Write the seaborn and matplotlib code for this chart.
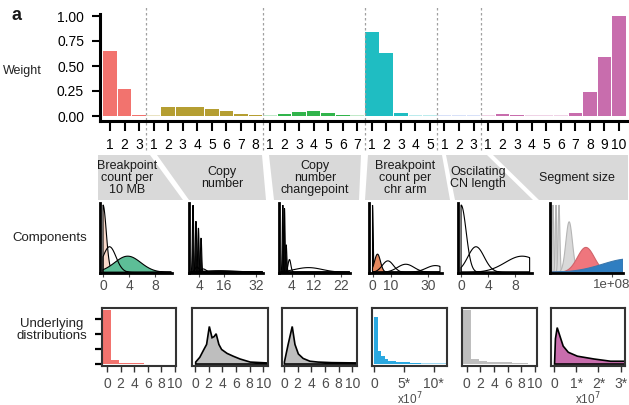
import numpy as np
import pandas as pd
import matplotlib
matplotlib.use("Agg")
import matplotlib.pyplot as plt
import seaborn as sns
from matplotlib.patches import Polygon
from matplotlib.colors import to_rgb

sns.set_theme(style="ticks")
plt.rcParams['font.family'] = ['Liberation Sans', 'DejaVu Sans']

W, H = 629, 405

# ---------------- data ----------------
feature_names = ["Breakpoint\ncount per\n10 MB", "Copy\nnumber", "Copy\nnumber\nchangepoint",
                 "Breakpoint\ncount per\nchr arm", "Oscilating\nCN length", "Segment size"]

# component weights (top row)
w_bp10mb = [0.65, 0.27, 0.01]
w_cn = [0.006, 0.09, 0.09, 0.09, 0.075, 0.05, 0.02, 0.01]
w_cncp = [0.006, 0.02, 0.04, 0.05, 0.03, 0.01, 0.006]
w_bpchr = [0.84, 0.63, 0.03, 0.006, 0.006]
w_osc = [0.006, 0.006, 0.006]
w_seg = [0.006, 0.02, 0.01, 0.006, 0.006, 0.006, 0.03, 0.24, 0.59, 1.00]
weights = [w_bp10mb, w_cn, w_cncp, w_bpchr, w_osc, w_seg]

# mixture components (middle row): mean, sd, scaled peak
c1_mean = [0.0, 3.8, 1.0]
c1_sd = [0.5, 2.0, 1.0]
c1_peak = [1.0, 0.24, 0.38]

c2_mean = [1.07, 2.5, 3.7, 5.0, 3.0, 6.0, 14.0]
c2_sd = [0.3, 0.3, 0.3, 0.3, 1.0, 1.5, 9.0]
c2_peak = [1.0, 0.76, 0.66, 0.51, 0.08, 0.05, 0.025]

c3_mean = [0.7, 1.3, 1.9, 3.1, 10.0]
c3_sd = [0.2, 0.2, 0.25, 0.5, 5.0]
c3_peak = [1.0, 0.95, 0.41, 0.19, 0.07]

c4_mean = [0.0, 2.7, 8.3, 18.0, 34.0]
c4_sd = [0.35, 1.6, 3.0, 4.5, 5.0]
c4_peak = [1.0, 0.27, 0.17, 0.12, 0.10]

c5_mean = [0.0, 2.2, 9.0]
c5_sd = [0.75, 1.2, 2.5]
c5_peak = [1.0, 0.38, 0.24]

c6_mean = [0.02, 0.07, 0.12, 0.29, 0.57, 1.3]   # x 1e8
c6_sd = [0.012, 0.012, 0.015, 0.055, 0.14, 0.45]
c6_peak = [1.0, 1.0, 1.0, 0.75, 0.37, 0.2]

comp_means = [c1_mean, c2_mean, c3_mean, c4_mean, c5_mean, c6_mean]
comp_sds = [c1_sd, c2_sd, c3_sd, c4_sd, c5_sd, c6_sd]
comp_peaks = [c1_peak, c2_peak, c3_peak, c4_peak, c5_peak, c6_peak]
comp_domain = [(0, 10.5), (0, 35), (0, 25), (0, 36.5), (0, 10.1), (0, 1.19)]

# underlying distributions (bottom row)
u1_start, u1_width = -0.6, 1.2
u1_heights = [0.36, 0.027, 0.006, 0.004, 0.004, 0.003, 0.003, 0.003]

u2_x = [0.1, 0.7, 1.3, 1.7, 2.1, 2.5, 2.8, 3.1, 3.5, 3.9, 4.7, 5.6, 6.6, 8.1, 10.5]
u2_y = [0.035, 0.12, 0.26, 0.35, 0.67, 0.47, 0.49, 0.54, 0.35, 0.26, 0.19, 0.14, 0.09, 0.035, 0.02]

u3_x = [0.05, 0.6, 1.2, 1.6, 2.1, 2.8, 3.8, 5.0, 7.0, 10.5]
u3_y = [0.035, 0.35, 0.67, 0.35, 0.18, 0.10, 0.05, 0.035, 0.025, 0.02]

u4_start, u4_width = 0.0, 0.6   # x 1e7
u4_heights = [0.84, 0.23, 0.14, 0.09, 0.06, 0.05, 0.04, 0.035, 0.03, 0.03,
              0.025, 0.025, 0.02, 0.02, 0.02, 0.02, 0.02, 0.015, 0.015, 0.015]

u5_start, u5_width = -0.6, 1.2
u5_heights = [0.96, 0.09, 0.05, 0.035, 0.03, 0.03, 0.025, 0.025]

u6_x = [0.02, 0.06, 0.14, 0.27, 0.41, 0.64, 1.05, 1.8, 2.55, 3.2]   # x 1e7
u6_y = [0.0, 0.45, 0.65, 0.49, 0.32, 0.21, 0.14, 0.09, 0.05, 0.05]

# ---------------- styles / layout ----------------
feature_colors = ["#F2736E", "#B59E32", "#31B44B", "#1FBDC2", "#7E9CE8", "#C86DAD"]
comp_fills = [["#F9D9CA", "#5DBE97", "none"],
              ["#111111"] * 4 + ["none"] * 3,
              ["#111111"] * 3 + ["none"] * 2,
              ["#1E5B4B", "#E5875D", "none", "none", "none"],
              ["none"] * 3,
              ["#D9D9D9"] * 4 + ["#EF767D", "#2F7EC1"]]
comp_edges = [["black"] * 3, ["black"] * 7, ["black"] * 5, ["black"] * 5, ["black"] * 3,
              ["#B5B5B5"] * 4 + ["#D0646B", "#3A78AE"]]

comp_lr = [(100, 172), (189, 263), (279, 350), (369, 442), (458, 532), (550, 623)]
comp_xlim = [(-0.46, 10.6), (-0.9, 35.2), (-0.7, 25.1), (-1.9, 37.6), (-0.45, 10.45), (-0.03, 1.19)]
comp_ticks = [[0, 4, 8], [4, 16, 32], [4, 12, 22], [0, 10, 30], [0, 4, 8], [1.0]]
comp_ticklabels = [None, None, None, None, None, ["1e+08"]]

und_lr = [(102, 176), (192, 268), (282, 357), (372, 447), (462, 537), (551, 625)]
und_xlim = [(-0.74, 10.15), (-0.44, 10.7), (-0.3, 10.7), (-0.33, 12.2), (-0.7, 10.3), (-0.14, 3.2)]

headers = [(98, 150, 183, 98), (157, 262, 266, 189), (269, 361, 359, 274),
           (368, 442, 450, 365), (446, 487, 533, 455), (493, 628, 628, 539)]
header_text_x = [127, 222, 315, 405, 478, 577]

grey_txt = "#4D4D4D"


def px_axes(fig, l, t, r, b):
    a = fig.add_axes([l / W, 1 - b / H, (r - l) / W, (b - t) / H])
    a.patch.set_alpha(0)
    return a


def lighten(c, amt):
    rgb = np.array(to_rgb(c))
    return tuple(rgb + (1 - rgb) * amt)


fig = plt.figure(figsize=(W / 100, H / 100), dpi=100)

# overlay in pixel coordinates for headers and row labels
ov = fig.add_axes([0, 0, 1, 1])
ov.set_xlim(0, W)
ov.set_ylim(H, 0)
ov.axis("off")
for (tl, tr, br, bl), name, tx in zip(headers, feature_names, header_text_x):
    ov.add_patch(Polygon([(tl, 155), (tr, 155), (br, 200), (bl, 200)], closed=True,
                         facecolor="#D9D9D9", edgecolor="none"))
    ov.text(tx, 178, name, ha="center", va="center", fontsize=9, color="#1A1A1A", linespacing=1.05)
ov.text(17, 15, "a", ha="center", va="center", fontsize=13, fontweight="bold", color="#1A1A1A")
ov.text(22, 71, "Weight", ha="center", va="center", fontsize=9, color="#222222")
ov.text(50, 238, "Components", ha="center", va="center", fontsize=9.5, color="#222222")
ov.text(52, 330, "Underlying\ndistributions", ha="center", va="center", fontsize=9.5,
        color="#222222", linespacing=1.1)

# ---------------- top: weights ----------------
rows = []
for f, ws in enumerate(weights):
    for k, w in enumerate(ws):
        rows.append({"key": f"c{len(rows):02d}", "comp": str(k + 1), "weight": w, "feature": f})
bars = pd.DataFrame(rows)
palette = {r.key: (feature_colors[r.feature] if r.weight >= 0.008 else lighten(feature_colors[r.feature], 0.7))
           for r in bars.itertuples()}

ax = px_axes(fig, 100, 14, 628, 121)
sns.barplot(data=bars, x="key", y="weight", hue="key", palette=palette, width=0.94,
            saturation=1, legend=False, errorbar=None, linewidth=0, ax=ax)
ax.set_xlim(-0.69, 35.62)
ax.set_ylim(-0.05, 1.02)
ax.set_xticks(range(len(bars)))
ax.set_xticklabels(bars["comp"])
ax.set_yticks([0, 0.25, 0.5, 0.75, 1.0])
ax.set_yticklabels([f"{v:.2f}" for v in [0, 0.25, 0.5, 0.75, 1.0]])
ax.set_xlabel("")
ax.set_ylabel("")
sns.despine(ax=ax)
for s in ["left", "bottom"]:
    ax.spines[s].set_linewidth(2.2)
    ax.spines[s].set_color("black")
ax.tick_params(axis="x", length=7, width=1.5, color="black", pad=5, labelsize=10, labelcolor="black")
ax.tick_params(axis="y", length=5.5, width=1.5, color="black", pad=6, labelsize=10, labelcolor="black")
sizes = np.cumsum([len(w) for w in weights])[:-1]
for b in sizes - 0.5:
    ax.axvline(b, ymin=-0.27, ymax=1.084, clip_on=False, color="#A0A0A0", lw=0.9, ls=(0, (2, 2)))

# ---------------- middle: components ----------------
for i in range(6):
    l, r = comp_lr[i]
    cax = px_axes(fig, l, 203, r, 273)
    d0, d1 = comp_domain[i]
    x = np.linspace(d0, d1, 600)
    for m, s, p, fc, ec in zip(comp_means[i], comp_sds[i], comp_peaks[i], comp_fills[i], comp_edges[i]):
        y = p * np.exp(-0.5 * ((x - m) / s) ** 2)
        cax.fill(np.r_[x[0], x, x[-1]], np.r_[0, y, 0], facecolor=fc, edgecolor=ec, lw=0.8)
    cax.set_xlim(*comp_xlim[i])
    cax.set_ylim(-0.01, 1.03)
    cax.set_yticks([])
    cax.set_xticks(comp_ticks[i])
    if comp_ticklabels[i]:
        cax.set_xticklabels(comp_ticklabels[i], fontsize=9.5)
    sns.despine(ax=cax)
    for s in ["left", "bottom"]:
        cax.spines[s].set_linewidth(2)
        cax.spines[s].set_color("black")
    cax.tick_params(axis="x", length=3, width=0.8, color=grey_txt, pad=1, labelcolor=grey_txt)
    if not comp_ticklabels[i]:
        cax.tick_params(axis="x", labelsize=10)

# ---------------- bottom: underlying distributions ----------------
uax = []
for i in range(6):
    l, r = und_lr[i]
    uax.append(px_axes(fig, l, 308, r, 366))


def hist_panel(a, start, width, heights, color, fade_from=None):
    edges = start + width * np.arange(len(heights) + 1)
    df = pd.DataFrame({"x": edges[:-1] + width / 2, "w": heights})
    sns.histplot(data=df, x="x", weights="w", bins=list(edges), color=color, alpha=1,
                 edgecolor="none", linewidth=0, ax=a)
    if fade_from is not None:
        for patch in a.patches:
            if patch.get_x() >= fade_from:
                patch.set_facecolor(lighten(color, 0.55))


def poly_panel(a, xs, ys, color):
    a.fill(np.r_[xs[0], xs, xs[-1]], np.r_[0, ys, 0], facecolor=color, edgecolor="black", lw=1.2)


hist_panel(uax[0], u1_start, u1_width, u1_heights, "#F2736E", fade_from=5.0)
poly_panel(uax[1], u2_x, u2_y, "#BEBEBE")
poly_panel(uax[2], u3_x, u3_y, "#BEBEBE")
hist_panel(uax[3], u4_start, u4_width, u4_heights, "#2AA8E0", fade_from=7.5)
hist_panel(uax[4], u5_start, u5_width, u5_heights, "#BEBEBE")
poly_panel(uax[5], u6_x, u6_y, "#C86DAD")

for i, a in enumerate(uax):
    a.set_xlim(*und_xlim[i])
    a.set_ylim(-0.035, 1.0)
    if i == 0:
        a.set_ylim(-0.013, 0.373)
    a.set_ylabel("")
    a.set_xlabel("")
    for s in a.spines.values():
        s.set_linewidth(1.5)
        s.set_color("#333333")
    a.tick_params(axis="x", length=4, width=1, color="#333333", pad=4, labelsize=10, labelcolor=grey_txt)
    if i == 0:
        a.set_yticks([0, 0.1, 0.2, 0.3])
        a.set_yticklabels([])
        a.tick_params(axis="y", length=5, width=1.6, color="black")
    else:
        a.set_yticks([])
    if i == 3:
        a.set_xticks([0, 5, 10])
        a.set_xticklabels(["0", "5*", "10*"])
    elif i == 5:
        a.set_xticks([0, 1, 2, 3])
        a.set_xticklabels(["0", "1*", "2*", "3*"])
    else:
        a.set_xticks([0, 2, 4, 6, 8, 10])
    if i in (3, 5):
        a.set_xlabel("x10$^7$", fontsize=8.5, color=grey_txt, labelpad=0)

fig.savefig("out.png", dpi=100)
